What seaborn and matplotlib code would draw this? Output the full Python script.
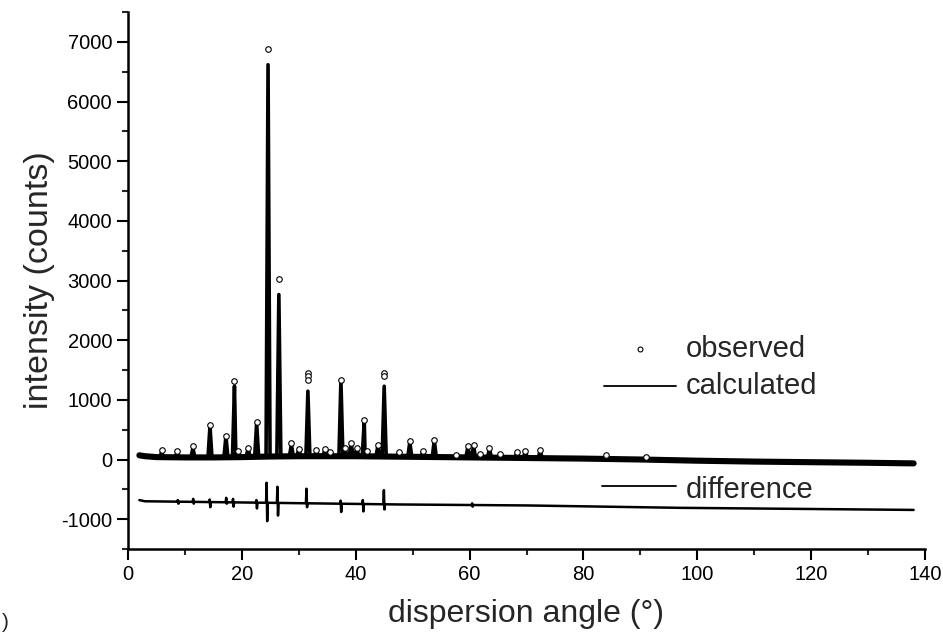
import numpy as np
import pandas as pd
import matplotlib
matplotlib.use("Agg")
import matplotlib.pyplot as plt
import seaborn as sns
from matplotlib.lines import Line2D
from matplotlib.ticker import MultipleLocator

# --- Data (angle in degrees, intensity in counts) ---
bg_angle = [2, 3, 5, 10, 15, 20, 25, 30, 35, 40, 45, 50, 60, 70, 80, 90, 100, 110, 120, 130, 138]
bg_count = [70, 55, 40, 35, 35, 40, 50, 55, 55, 55, 50, 45, 35, 25, 15, 0, -20, -35, -45, -55, -65]

peak_angle = [5.9, 8.6, 11.4, 14.4, 17.2, 18.7, 19.3, 21.1, 22.6, 24.6, 26.5, 28.7, 30.0,
              31.6, 33.1, 34.6, 35.5, 37.4, 38.1, 39.2, 40.2, 41.5, 42.0, 43.9, 45.0,
              47.6, 49.5, 51.8, 53.8, 57.7, 59.7, 60.7, 61.8, 63.5, 65.4, 68.3, 69.8,
              72.4, 84.0, 91.0]
peak_calc = [120, 110, 190, 560, 390, 1230, 130, 190, 610, 6616, 2764, 250, 170,
             1145, 140, 170, 120, 1330, 190, 270, 190, 650, 140, 230, 1228,
             110, 290, 140, 320, 70, 210, 230, 90, 180, 80, 110, 140,
             150, 70, 40]
peak_obs = [155, 150, 218, 586, 400, 1311, 140, 200, 625, 6884, 3032, 270, 180,
            1457, 155, 180, 130, 1340, 200, 280, 200, 670, 150, 250, 1457,
            120, 307, 150, 335, 80, 218, 250, 100, 200, 90, 120, 150,
            167, 75, 45]
extra_obs_angle = [31.6, 31.6, 45.0]
extra_obs_count = [1395, 1330, 1400]

diff_bg_angle = [2, 3, 20, 48, 70, 97, 138]
diff_bg_count = [-680, -700, -720, -754, -770, -810, -845]
spike_angle = [8.8, 11.5, 14.4, 17.3, 18.5, 22.6, 24.4, 26.3, 31.4, 37.4, 41.3, 45.0, 60.5]
spike_high = [-680, -660, -670, -642, -660, -680, -390, -457, -490, -690, -680, -514, -735]
spike_low = [-740, -740, -800, -740, -790, -820, -1033, -940, -800, -880, -870, -837, -790]


def spike_path(angles, tops, base_x, base_y, hw):
    """Polyline: background anchors plus a narrow spike per peak."""
    xs, ys = [], []
    for bx, by in zip(base_x, base_y):
        if all(abs(bx - a) > hw for a in angles):
            xs.append(bx)
            ys.append(by)
    for a, t in zip(angles, tops):
        xs += [a - hw, a, a + hw]
        ys += [np.interp(a - hw, base_x, base_y), t, np.interp(a + hw, base_x, base_y)]
    order = np.argsort(xs, kind="stable")
    return pd.DataFrame({"angle": np.array(xs)[order], "count": np.array(ys)[order]})


def diff_path(angles, highs, lows, base_x, base_y, hw):
    xs, ys = [], []
    for bx, by in zip(base_x, base_y):
        if all(abs(bx - a) > hw for a in angles):
            xs.append(bx)
            ys.append(by)
    for a, h, l in zip(angles, highs, lows):
        xs += [a - hw, a - hw / 3, a + hw / 3, a + hw]
        ys += [np.interp(a - hw, base_x, base_y), h, l, np.interp(a + hw, base_x, base_y)]
    order = np.argsort(xs, kind="stable")
    return pd.DataFrame({"angle": np.array(xs)[order], "count": np.array(ys)[order]})


calc_df = spike_path(peak_angle, peak_calc, bg_angle, bg_count, 0.35)
bg_df = pd.DataFrame({"angle": bg_angle, "count": bg_count})
obs_df = pd.DataFrame({"angle": peak_angle + extra_obs_angle,
                       "count": peak_obs + extra_obs_count})
diff_df = diff_path(spike_angle, spike_high, spike_low, diff_bg_angle, diff_bg_count, 0.15)

# --- Figure ---
sns.set_style("ticks")
plt.rcParams['font.family'] = ['Liberation Sans', 'DejaVu Sans']
plt.rcParams['axes.unicode_minus'] = False

fig = plt.figure(figsize=(9.43, 6.37), dpi=100)
ax = fig.add_axes([128 / 943, 1 - 549 / 637, (925 - 128) / 943, (549 - 12) / 637])

# dense observed points along the background show as a thick band
sns.lineplot(data=bg_df, x="angle", y="count", ax=ax, color="black", lw=4.4,
             sort=False, estimator=None)
sns.lineplot(data=calc_df, x="angle", y="count", ax=ax, color="black", lw=2.6,
             sort=False, estimator=None)
sns.lineplot(data=diff_df, x="angle", y="count", ax=ax, color="black", lw=1.8,
             sort=False, estimator=None)
sns.scatterplot(data=obs_df, x="angle", y="count", ax=ax, marker="o", s=16,
                facecolor="white", edgecolor="black", linewidth=0.8, zorder=5)

ax.set_xlim(0, 140)
ax.set_ylim(-1500, 7500)
ax.xaxis.set_major_locator(MultipleLocator(20))
ax.xaxis.set_minor_locator(MultipleLocator(10))
ax.yaxis.set_major_locator(MultipleLocator(1000))
ax.yaxis.set_minor_locator(MultipleLocator(500))
ax.set_yticks(range(-1000, 7001, 1000))
ax.tick_params(which="major", direction="out", length=8, width=1.5, labelsize=14.5,
               colors="black")
ax.tick_params(which="minor", direction="out", length=4, width=1.5)
sns.despine(ax=ax)
for side in ("left", "bottom"):
    ax.spines[side].set_linewidth(1.8)
    ax.spines[side].set_color("black")

ax.set_xlabel("dispersion angle (°)", fontsize=23, labelpad=11)
ax.set_ylabel("intensity (counts)", fontsize=24.5, labelpad=4)

# --- Legend drawn in place ---
def fx(px):
    return px / 943


def fy(py):
    return 1 - py / 637


fig.add_artist(Line2D([fx(640)], [fy(349)], marker="o", markersize=3.5,
                      markerfacecolor="white", markeredgecolor="black",
                      markeredgewidth=0.8, linestyle="none"))
fig.add_artist(Line2D([fx(604), fx(676)], [fy(386), fy(386)], color="black", lw=1.3))
fig.add_artist(Line2D([fx(602), fx(676)], [fy(486), fy(486)], color="black", lw=1.3))
for label, py in [("observed", 349), ("calculated", 386), ("difference", 490)]:
    fig.text(fx(686), fy(py), label, fontsize=21, ha="left", va="center")

fig.text(fx(2), fy(623), ")", fontsize=15, ha="left", va="center")

fig.savefig("out.png", dpi=100)
